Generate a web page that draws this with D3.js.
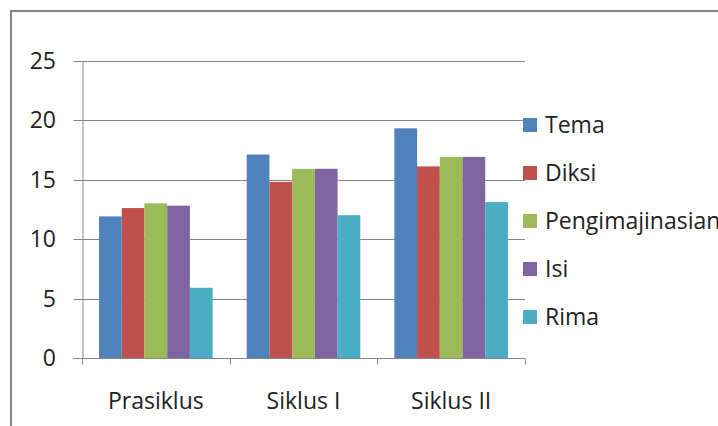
<!DOCTYPE html>
<html>
<head>
<meta charset="utf-8">
<script src="https://cdn.jsdelivr.net/npm/d3@7/dist/d3.min.js"></script>
<style>
  html, body { margin: 0; padding: 0; background: #fff; }
  svg { display: block; }
  text { font-family: "Open Sans", "Noto Sans", sans-serif; fill: #222; }
</style>
</head>
<body>
<svg id="chart" width="718" height="426"></svg>
<script>
const categories = ["Prasiklus", "Siklus I", "Siklus II"];
const seriesNames = ["Tema", "Diksi", "Pengimajinasian", "Isi", "Rima"];
const seriesColors = ["#4F81BD", "#C0504D", "#9BBB59", "#8064A2", "#4BACC6"];
const tema = [11.9, 17.1, 19.3];
const diksi = [12.6, 14.8, 16.1];
const pengimajinasian = [13.0, 15.9, 16.9];
const isi = [12.8, 15.9, 16.9];
const rima = [5.9, 12.0, 13.1];
const yTicks = [0, 5, 10, 15, 20, 25];

const seriesValues = [tema, diksi, pengimajinasian, isi, rima];

const svg = d3.select("#chart");
const W = 718, H = 426;
svg.append("rect").attr("width", W).attr("height", H).attr("fill", "#fff");

// outer chart border (partially cropped)
svg.append("path")
  .attr("d", `M11,${H + 5} L11,11 L${W + 5},11`)
  .attr("fill", "none").attr("stroke", "#868686").attr("stroke-width", 2);

const plot = { left: 82, right: 525, top: 60.5, bottom: 358 };

const x0 = d3.scaleBand().domain(categories).range([plot.left, plot.right]).padding(0);
const bw = x0.bandwidth();
const groupW = bw / 1.3;
const x1 = d3.scaleBand().domain(seriesNames)
  .range([(bw - groupW) / 2, (bw + groupW) / 2]).padding(0);
const y = d3.scaleLinear().domain([0, 25]).range([plot.bottom, plot.top]);

const gridColor = "#868686";
const fs = 23;

// gridlines
svg.append("g").selectAll("line").data(yTicks.filter(t => t > 0)).join("line")
  .attr("x1", plot.left).attr("x2", plot.right)
  .attr("y1", d => Math.round(y(d)) + 0.5).attr("y2", d => Math.round(y(d)) + 0.5)
  .attr("stroke", gridColor).attr("stroke-width", 1);

// bars
const bars = svg.append("g");
seriesNames.forEach((s, si) => {
  bars.selectAll(null).data(categories).join("rect")
    .attr("x", c => x0(c) + x1(s))
    .attr("width", x1.bandwidth())
    .attr("y", (c, ci) => y(seriesValues[si][ci]))
    .attr("height", (c, ci) => y(0) - y(seriesValues[si][ci]))
    .attr("fill", seriesColors[si]);
});

// y axis
const yAxis = d3.axisLeft(y).tickValues(yTicks).tickSize(9).tickPadding(17.5).tickSizeOuter(0);
const gy = svg.append("g").attr("transform", `translate(${plot.left + 0.5},0)`).call(yAxis);
gy.select(".domain").attr("stroke", gridColor);
gy.selectAll(".tick line").attr("stroke", gridColor);
gy.selectAll(".tick").attr("transform", d => `translate(0,${Math.round(y(d)) + 0.5})`);
gy.selectAll(".tick text").attr("font-size", fs).attr("fill", "#222")
  .style("font-family", '"Open Sans", sans-serif').attr("dy", "0.34em");

// x axis
const gx = svg.append("g").attr("transform", `translate(0,${Math.round(plot.bottom) + 0.5})`);
gx.append("line").attr("x1", plot.left - 9).attr("x2", plot.right)
  .attr("stroke", gridColor);
const xTickPos = categories.map(c => x0(c)).concat([plot.right]);
gx.selectAll(".xt").data(xTickPos).join("line")
  .attr("x1", d => Math.round(d) + 0.5).attr("x2", d => Math.round(d) + 0.5)
  .attr("y1", 0).attr("y2", 6).attr("stroke", gridColor);
gx.selectAll("text").data(categories).join("text")
  .attr("x", c => x0(c) + bw / 2).attr("y", 50)
  .attr("text-anchor", "middle").attr("font-size", fs)
  .text(c => c);

// legend
const legend = svg.append("g");
seriesNames.forEach((s, i) => {
  const cy = 125 + i * 48;
  legend.append("rect").attr("x", 523).attr("y", cy - 7).attr("width", 14).attr("height", 14)
    .attr("fill", seriesColors[i]);
  legend.append("text").attr("x", 545).attr("y", cy).attr("dy", "0.36em")
    .attr("font-size", fs).text(s);
});
</script>
</body>
</html>
